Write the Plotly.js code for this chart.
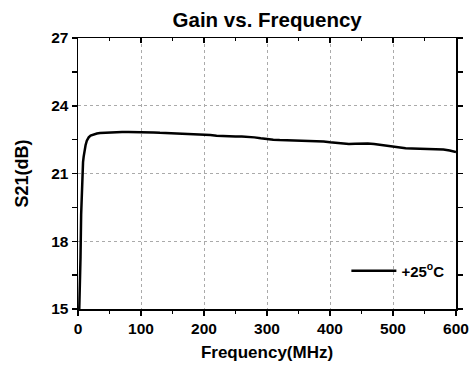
<!DOCTYPE html>
<html>
<head>
<meta charset="utf-8">
<script src="https://cdn.plot.ly/plotly-3.0.1.min.js"></script>
<style>html,body{margin:0;padding:0;background:#fff;}#chart{width:472px;height:365px;}</style>
</head>
<body>
<div id="chart"></div>
<script>
var freqMHz = [2,3,4,5,6,7,8,9,10,12,14,17,20,25,30,35,40,50,60,70,80,90,100,110,120,130,140,150,160,170,180,190,200,210,220,230,240,250,260,270,280,290,300,310,320,330,340,350,360,370,380,390,400,410,420,430,440,450,460,470,480,490,500,510,520,530,540,550,560,570,580,590,600];
var gain25C = [15.0,15.9,17.3,19.2,20.4,21.05,21.5,21.75,21.95,22.25,22.45,22.6,22.68,22.74,22.77,22.79,22.8,22.82,22.83,22.84,22.84,22.84,22.85,22.84,22.82,22.8,22.79,22.78,22.78,22.77,22.76,22.74,22.72,22.7,22.67,22.65,22.65,22.64,22.64,22.63,22.6,22.56,22.52,22.5,22.48,22.47,22.47,22.47,22.46,22.45,22.43,22.42,22.38,22.35,22.32,22.31,22.32,22.33,22.33,22.31,22.27,22.22,22.17,22.14,22.12,22.11,22.1,22.1,22.1,22.08,22.06,22.02,21.95];
var seriesName = '+25<sup>o</sup>C';
var xTicks = [0,100,200,300,400,500,600];
var yTicks = [15,18,21,24,27];

var fnt = {family: 'Liberation Sans, Arial, sans-serif', color: '#000', weight: 'bold'};
function f(size){ return Object.assign({}, fnt, {size: size}); }

var data = [{
  x: freqMHz, y: gain25C, type: 'scatter', mode: 'lines', name: seriesName,
  line: {color: '#000', width: 2.5}
}, {
  x: [0, 600], y: [15, 15], type: 'scatter', mode: 'none', xaxis: 'x2', showlegend: false, hoverinfo: 'skip'
}];

var layout = {
  width: 472, height: 365,
  margin: {l: 78, r: 16, t: 38, b: 56},
  paper_bgcolor: '#fff', plot_bgcolor: '#fff',
  title: {text: 'Gain vs. Frequency', font: f(20.5), x: 0.566, xanchor: 'center', y: 0.945, yanchor: 'middle'},
  showlegend: true,
  legend: {x: 0.71, y: 0.14, xanchor: 'left', yanchor: 'middle', bgcolor: 'rgba(0,0,0,0)', font: f(15), itemwidth: 45},
  xaxis: {
    range: [0, 600], tickvals: xTicks, ticks: 'outside', ticklen: 5, tickwidth: 1.5, tickcolor: '#000',
    showline: true, linecolor: '#000', linewidth: 1.5, mirror: true,
    showgrid: true, gridcolor: '#aaa', griddash: 'dot', gridwidth: 1,
    zeroline: false, tickfont: f(15.5),
    minor: {dtick: 50, ticks: 'outside', ticklen: 3, tickwidth: 1.5, tickcolor: '#000', showgrid: false},
    title: {text: 'Frequency(MHz)', font: f(17), standoff: 10}
  },
  xaxis2: {
    range: [0, 600], overlaying: 'x', side: 'top', tickvals: xTicks, ticks: 'inside', ticklen: 5, tickwidth: 1.5,
    tickcolor: '#000', showticklabels: false, showgrid: false, zeroline: false, showline: false,
    minor: {dtick: 50, ticks: 'inside', ticklen: 3, tickwidth: 1.5, tickcolor: '#000', showgrid: false}
  },
  yaxis: {
    range: [15, 27], tickvals: yTicks, ticks: 'outside', ticklen: 5, tickwidth: 1.5, tickcolor: '#000',
    showline: true, linecolor: '#000', linewidth: 1.5, mirror: 'ticks',
    showgrid: true, gridcolor: '#aaa', griddash: 'dot', gridwidth: 1,
    zeroline: false, tickfont: f(15.5), ticklabelstandoff: 0,
    minor: {dtick: 1.5, ticks: 'outside', ticklen: 5, tickwidth: 1.5, tickcolor: '#000', showgrid: false},
    title: {text: 'S21(dB)', font: f(18), standoff: 18}
  }
};

Plotly.newPlot('chart', data, layout, {displayModeBar: false, staticPlot: true});
</script>
</body>
</html>
